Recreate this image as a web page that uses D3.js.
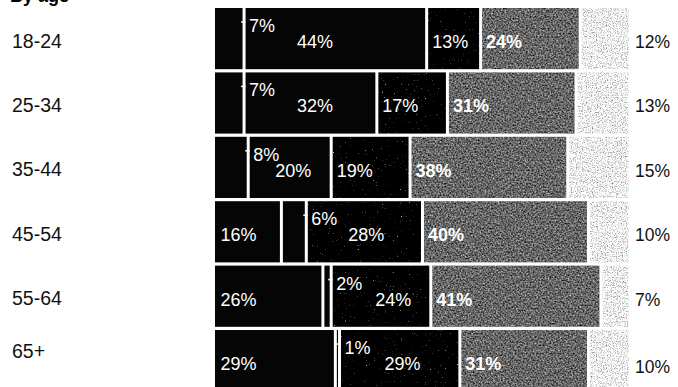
<!DOCTYPE html>
<html>
<head>
<meta charset="utf-8">
<script src="https://cdn.jsdelivr.net/npm/d3@7"></script>
<style>
  html, body { margin: 0; padding: 0; background: #fff; }
  svg { display: block; }
  text { font-family: "Liberation Sans", Arial, Helvetica, sans-serif; }
</style>
</head>
<body>
<svg id="chart" width="678" height="387"></svg>
<script>
// Share of each age group in five categories (percent, each row sums to 100)
const ages    = ["18-24", "25-34", "35-44", "45-54", "55-64", "65+"];
const seriesA = [7, 7, 8, 16, 26, 29];
const seriesB = [44, 32, 20, 6, 2, 1];
const seriesC = [13, 17, 19, 28, 24, 29];
const seriesD = [24, 31, 38, 40, 41, 31];
const seriesE = [12, 13, 15, 10, 7, 10];
const keys = ["A", "B", "C", "D", "E"];
const title = "By age";

const rows = ages.map((age, i) => ({
  age, A: seriesA[i], B: seriesB[i], C: seriesC[i], D: seriesD[i], E: seriesE[i]
}));

const svg = d3.select("#chart");
const defs = svg.append("defs");

// Print-like grain for the textured fills: grey = k * noise + c, clipped to the shape
function grain(id, freq, k, c, seed) {
  const f = defs.append("filter").attr("id", id)
    .attr("x", 0).attr("y", 0).attr("width", 1).attr("height", 1)
    .attr("color-interpolation-filters", "sRGB");
  f.append("feTurbulence").attr("type", "fractalNoise")
    .attr("baseFrequency", freq).attr("numOctaves", 2).attr("seed", seed).attr("result", "n");
  const row = `${k} 0 0 0 ${c}`;
  f.append("feColorMatrix").attr("in", "n").attr("type", "matrix")
    .attr("values", `${row} ${row} ${row} 0 0 0 0 1`)
    .attr("result", "g");
  f.append("feComposite").attr("in", "g").attr("in2", "SourceGraphic").attr("operator", "in");
}
grain("grainC", 0.75, 4.0, -2.85, 4);
grain("grainD", 0.6, 1.0, -0.1, 7);
grain("grainE", 0.8, -1.2, 1.55, 11);

const fills = { A: "#050505", B: "#050505", C: "#141414", D: "#808080", E: "#eeeeee" };
const filters = { C: "url(#grainC)", D: "url(#grainD)", E: "url(#grainE)" };

const x = d3.scaleLinear().domain([0, 100]).range([215, 630]);
const y = d3.scaleBand().domain(ages).range([8, 391.2]).paddingInner(0.05);
const gap = 3;

const stacked = d3.stack().keys(keys)(rows);

// Title (runs off the top edge)
svg.append("text").attr("x", 10).attr("y", 2)
  .attr("font-size", 18).attr("font-weight", 700).attr("fill", "#000").text(title);

// Segments
stacked.forEach(layer => {
  svg.append("g").selectAll("rect").data(layer).join("rect")
    .attr("x", d => x(d[0]) + (d[0] > 0 ? gap / 2 : 0))
    .attr("y", d => y(d.data.age))
    .attr("width", d => Math.max(1, x(d[1]) - x(d[0]) - (d[0] > 0 ? gap : gap / 2)))
    .attr("height", y.bandwidth())
    .attr("fill", fills[layer.key])
    .attr("filter", filters[layer.key] || null);
});

// Age labels
svg.append("g").selectAll("text").data(ages).join("text")
  .attr("x", 12)
  .attr("y", (d, i) => y(d) + (i === ages.length - 1 ? 28 : 39.5))
  .attr("font-size", 19.5).attr("fill", "#111").text(d => d);

// Value labels
const leadShift = { "18-24": 48, "25-34": 48, "35-44": 22, "45-54": 37, "55-64": 39, "65+": 40 };
const labels = svg.append("g");
rows.forEach((r, i) => {
  const top = y(r.age);
  let lead = null;
  keys.forEach((k, j) => {
    const s = stacked[j][i];
    const x0 = x(s[0]), x1 = x(s[1]);
    const txt = r[k] + "%";
    if (k === "E") {
      labels.append("text").attr("x", 635).attr("y", top + (i === ages.length - 1 ? 43 : 40))
        .attr("font-size", 17.5).attr("fill", "#111").text(txt);
      return;
    }
    const small = (x1 - x0) < 40;
    if (small) {
      const lx = x1 + 5;
      labels.append("line")
        .attr("x1", x1 - 3).attr("x2", x1 + 1.5)
        .attr("y1", top + 14).attr("y2", top + 14)
        .attr("stroke", "#fff").attr("stroke-width", 1.5);
      labels.append("text").attr("x", lx).attr("y", top + 24)
        .attr("font-size", 18).attr("fill", "#fff").text(txt);
      lead = lx + leadShift[r.age];
      return;
    }
    const lx = lead !== null ? lead : x0 + gap / 2 + 4;
    lead = null;
    labels.append("text").attr("x", lx).attr("y", top + 40)
      .attr("font-size", 18)
      .attr("font-weight", k === "D" ? 700 : 400)
      .attr("fill", "#fff").text(txt);
  });
});
</script>
</body>
</html>
